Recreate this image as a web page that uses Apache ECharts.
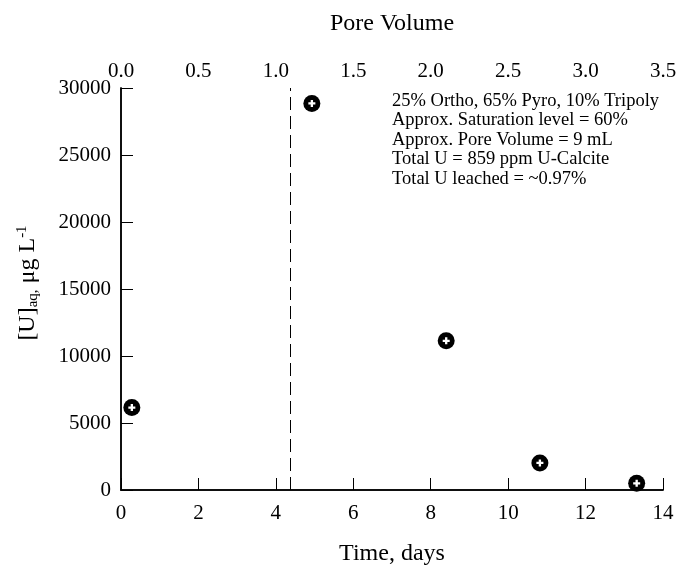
<!DOCTYPE html>
<html>
<head>
<meta charset="utf-8">
<script src="https://cdn.jsdelivr.net/npm/echarts@6/dist/echarts.min.js"></script>
<style>
  html, body { margin: 0; padding: 0; background: #fff; }
  #box { width: 677px; height: 567px; }
</style>
</head>
<body>
<div id="box"></div>
<script>
// measured data
var days = [0.28, 4.93, 8.40, 10.82, 13.32];
var uranium = [6150, 28850, 11130, 2020, 500];
var poreVolumeLine = 4.37; // dashed line, days
var xTicks = [0, 14, 2];
var poreTicks = [0, 3.5, 0.5];
var yTicks = [0, 30000, 5000];
var notes = [
  '25% Ortho, 65% Pyro, 10% Tripoly',
  'Approx. Saturation level = 60%',
  'Approx. Pore Volume = 9 mL',
  'Total U = 859 ppm U-Calcite',
  'Total U leached = ~0.97%'
];

var font = 'Liberation Serif';
var pts = days.map(function (d, i) { return [d, uranium[i]]; });

function axisLine() { return { show: true, lineStyle: { color: '#000', width: 1.5 } }; }
function label(margin, fmt) {
  return { color: '#000', fontFamily: font, fontSize: 21, margin: margin, formatter: fmt };
}
// copy of an axis shifted 6px into the plot: its outward ticks end on the frame,
// so they read as inward ticks
function tickAxis(type, pos, t) {
  return {
    type: 'value', position: pos, offset: -6, min: t[0], max: t[1], interval: t[2],
    axisLine: { show: false }, axisLabel: { show: false }, splitLine: { show: false },
    axisTick: { show: true, length: 6, lineStyle: { color: '#000', width: 1 } }
  };
}

var myecharts = echarts.init(document.getElementById('box'));
var options = {
  animation: false,
  grid: { left: 121, right: 14, top: 88, bottom: 77, outerBoundsMode: 'none', containLabel: false },
  xAxis: [{
    type: 'value', position: 'bottom', min: xTicks[0], max: xTicks[1], interval: xTicks[2],
    name: 'Time, days', nameLocation: 'middle', nameGap: 52,
    nameTextStyle: { color: '#000', fontFamily: font, fontSize: 24 },
    axisLine: axisLine(), axisTick: { show: false }, splitLine: { show: false },
    axisLabel: label(13, function (v) { return String(v); })
  }, {
    type: 'value', position: 'top', min: poreTicks[0], max: poreTicks[1], interval: poreTicks[2],
    name: 'Pore Volume', nameLocation: 'middle', nameGap: 52,
    nameTextStyle: { color: '#000', fontFamily: font, fontSize: 24 },
    axisLine: axisLine(), axisTick: { show: false }, splitLine: { show: false },
    axisLabel: label(6, function (v) { return v.toFixed(1); })
  },
    tickAxis('value', 'bottom', xTicks),
    tickAxis('value', 'top', poreTicks)
  ],
  yAxis: [{
    type: 'value', position: 'left', min: yTicks[0], max: yTicks[1], interval: yTicks[2],
    name: '[U]{sub|aq,} μg L{sup|-1}', nameLocation: 'middle', nameGap: 80, nameRotate: 90,
    nameTextStyle: {
      color: '#000', fontFamily: font, fontSize: 24, padding: [0, 0, 0, 12],
      rich: {
        sub: { fontFamily: font, fontSize: 15, color: '#000', padding: [11, 0, 0, 0] },
        sup: { fontFamily: font, fontSize: 15, color: '#000', padding: [0, 0, 11, 0] }
      }
    },
    axisLine: axisLine(), axisTick: { show: false }, splitLine: { show: false },
    axisLabel: label(10, function (v) { return String(v); })
  }, {
    type: 'value', position: 'right', min: yTicks[0], max: yTicks[1], interval: yTicks[2],
    axisLine: axisLine(), axisTick: { show: false }, splitLine: { show: false },
    axisLabel: { show: false }
  },
    tickAxis('value', 'left', yTicks),
    tickAxis('value', 'right', yTicks)
  ],
  graphic: [{
    type: 'text', left: 392, top: 91,
    style: { text: notes.join('\n'), fontFamily: font, fontSize: 18.5, lineHeight: 19.5, fill: '#000' }
  }],
  series: [{
    type: 'scatter', data: pts, symbol: 'circle', symbolSize: 17,
    itemStyle: { color: '#000', opacity: 1 },
    markLine: {
      silent: true, symbol: 'none', label: { show: false },
      lineStyle: { color: '#000', width: 1, type: [13, 6] },
      data: [{ xAxis: poreVolumeLine }]
    }
  }, {
    type: 'scatter', data: pts, symbol: 'path://M2,0H4V2H6V4H4V6H2V4H0V2H2Z', symbolSize: 7,
    itemStyle: { color: '#fff', opacity: 1 }
  }]
};
myecharts.setOption(options);
</script>
</body>
</html>
